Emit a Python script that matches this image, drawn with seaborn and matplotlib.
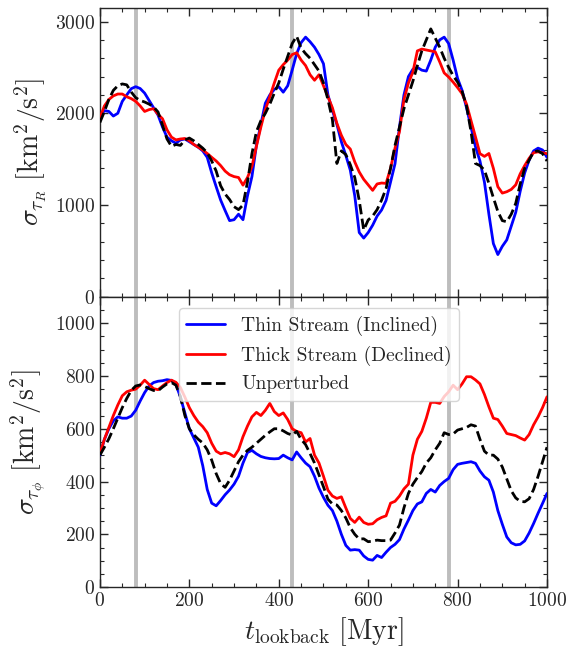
import numpy as np
import pandas as pd
import matplotlib
matplotlib.use("Agg")
import matplotlib.pyplot as plt
from matplotlib.ticker import MultipleLocator
import seaborn as sns

sns.set_style("ticks")
plt.rcParams["font.family"] = "serif"
plt.rcParams["font.serif"] = ["cmr10", "DejaVu Serif"]
plt.rcParams["mathtext.fontset"] = "cm"
plt.rcParams["axes.formatter.use_mathtext"] = True

t = list(range(0, 1001, 10))

# ---- top panel: sigma_tau_R ----
top_thin = [1960, 2030, 2020, 1970, 2000, 2130, 2200, 2268, 2290, 2270,
            2220, 2140, 2060, 1980, 1850, 1740, 1700, 1674, 1710, 1720,
            1690, 1660, 1630, 1590, 1520, 1350, 1200, 1054, 940, 830,
            840, 900, 840, 1100, 1310, 1650, 1880, 2110, 2200, 2260,
            2290, 2230, 2300, 2470, 2650, 2770, 2830, 2780, 2720, 2640,
            2540, 2200, 2030, 1880, 1690, 1540, 1380, 1100, 700, 640,
            700, 780, 880, 946, 1050, 1250, 1450, 1850, 2200, 2400,
            2480, 2500, 2470, 2460, 2580, 2720, 2800, 2830, 2760, 2580,
            2380, 2250, 2060, 1850, 1634, 1480, 1250, 900, 580, 460,
            550, 620, 770, 920, 1150, 1350, 1490, 1590, 1620, 1600, 1520]
top_thick = [1950, 2080, 2150, 2190, 2210, 2210, 2180, 2160, 2130, 2080,
             2020, 2040, 2050, 1990, 1940, 1820, 1740, 1710, 1720, 1725,
             1700, 1660, 1630, 1600, 1562, 1520, 1480, 1430, 1370, 1330,
             1310, 1300, 1217, 1300, 1420, 1640, 1850, 2040, 2180, 2330,
             2470, 2530, 2580, 2640, 2660, 2580, 2520, 2420, 2360, 2420,
             2300, 2180, 2060, 1890, 1760, 1660, 1610, 1470, 1360, 1280,
             1220, 1160, 1230, 1240, 1236, 1400, 1620, 1800, 2150, 2330,
             2450, 2680, 2700, 2690, 2680, 2670, 2560, 2440, 2395, 2340,
             2280, 2214, 2100, 1920, 1743, 1560, 1530, 1562, 1400, 1200,
             1130, 1145, 1170, 1220, 1340, 1430, 1510, 1570, 1580, 1570, 1560]
top_unpert = [1900, 2020, 2150, 2250, 2300, 2320, 2310, 2232, 2170, 2140,
              2123, 2100, 2070, 2014, 1870, 1720, 1640, 1660, 1650, 1710,
              1730, 1700, 1660, 1620, 1570, 1480, 1370, 1210, 1120, 1060,
              982, 950, 1000, 1250, 1560, 1800, 1920, 2000, 2100, 2220,
              2330, 2480, 2620, 2760, 2840, 2710, 2650, 2600, 2530, 2460,
              2330, 2150, 1930, 1453, 1590, 1550, 1440, 1300, 1050, 728,
              837, 880, 950, 1054, 1180, 1400, 1650, 1850, 2050, 2200,
              2350, 2520, 2680, 2800, 2920, 2820, 2720, 2600, 2500, 2410,
              2340, 2240, 2080, 1800, 1453, 1430, 1380, 1236, 1080, 930,
              830, 818, 900, 1018, 1230, 1400, 1490, 1580, 1590, 1560, 1480]

# ---- bottom panel: sigma_tau_phi ----
bot_thin = [500, 560, 600, 630, 645, 640, 640, 648, 670, 705,
            737, 762, 775, 780, 782, 786, 783, 768, 720, 660,
            600, 565, 530, 460, 370, 318, 308, 328, 350, 368,
            390, 420, 470, 510, 518, 505, 495, 490, 487, 486,
            487, 500, 490, 482, 512, 490, 470, 456, 420, 375,
            340, 310, 290, 250, 200, 158, 140, 142, 140, 118,
            105, 102, 120, 112, 132, 150, 162, 180, 220, 254,
            290, 315, 323, 355, 370, 360, 385, 400, 412, 445,
            465, 469, 472, 475, 469, 440, 418, 405, 360, 290,
            238, 190, 168, 160, 162, 175, 205, 241, 280, 317, 355]
bot_thick = [505, 560, 605, 650, 690, 725, 740, 746, 750, 765,
             784, 768, 752, 748, 762, 775, 784, 776, 756, 720,
             680, 650, 625, 608, 585, 545, 515, 505, 510, 505,
             494, 520, 570, 610, 645, 662, 650, 670, 696, 665,
             650, 660, 635, 600, 590, 585, 550, 563, 500, 470,
             420, 367, 345, 336, 342, 300, 260, 245, 265, 245,
             238, 240, 255, 264, 270, 318, 325, 345, 372, 390,
             500, 560, 590, 640, 700, 700, 696, 722, 740, 765,
             748, 770, 797, 797, 785, 770, 730, 683, 640, 635,
             610, 582, 578, 574, 565, 557, 578, 615, 645, 680, 721]
bot_unpert = [500, 530, 562, 600, 640, 680, 715, 745, 762, 766,
              760, 752, 745, 744, 758, 770, 775, 765, 722, 650,
              600, 577, 560, 546, 520, 481, 430, 392, 378, 405,
              440, 475, 500, 518, 530, 545, 560, 575, 588, 600,
              600, 592, 582, 576, 590, 560, 540, 506, 470, 425,
              380, 333, 315, 311, 290, 262, 225, 200, 182, 183,
              172, 174, 178, 176, 176, 178, 205, 235, 300, 355,
              390, 415, 438, 470, 490, 520, 545, 585, 578, 580,
              595, 600, 605, 615, 610, 560, 515, 500, 500, 485,
              455, 410, 365, 338, 325, 323, 335, 370, 420, 475, 530]

labels = ["Thin Stream (Inclined)", "Thick Stream (Declined)", "Unperturbed"]
colors = ["blue", "red", "black"]
styles = ["-", "-", "--"]
event_times = [80, 430, 780]

fig = plt.figure(figsize=(5.71, 6.48), dpi=100)
ax1 = fig.add_axes([0.175, 0.542, 0.783, 0.446])
ax2 = fig.add_axes([0.175, 0.094, 0.783, 0.448], sharex=ax1)

for ax, series in ((ax1, (top_thin, top_thick, top_unpert)),
                   (ax2, (bot_thin, bot_thick, bot_unpert))):
    for tv in event_times:
        ax.axvline(tv, color="#bdbdbd", lw=2.8, zorder=1)
    for s, lab, c, ls in zip(series, labels, colors, styles):
        sns.lineplot(x=t, y=s, ax=ax, color=c, linestyle=ls, lw=2.0,
                     label=lab, zorder=3)
    ax.tick_params(which="both", direction="in", top=True, right=True,
                   labelsize=14)
    ax.tick_params(which="major", length=6, width=1)
    ax.tick_params(which="minor", length=3, width=0.8)
    ax.xaxis.set_major_locator(MultipleLocator(200))
    ax.xaxis.set_minor_locator(MultipleLocator(50))

ax1.set_xlim(0, 1000)
ax1.set_ylim(0, 3150)
ax1.yaxis.set_major_locator(MultipleLocator(1000))
ax1.yaxis.set_minor_locator(MultipleLocator(200))
ax1.tick_params(labelbottom=False)
ax1.get_legend().remove()
ax1.set_ylabel(r"$\sigma_{\tau_R}\ [\mathrm{km}^2/\mathrm{s}^2]$", fontsize=20)

ax2.set_ylim(0, 1100)
ax2.yaxis.set_major_locator(MultipleLocator(200))
ax2.yaxis.set_minor_locator(MultipleLocator(50))
ax2.set_ylabel(r"$\sigma_{\tau_\phi}\ [\mathrm{km}^2/\mathrm{s}^2]$", fontsize=20)
ax2.set_xlabel(r"$t_{\rm lookback}\ [\mathrm{Myr}]$", fontsize=20)
ax2.legend(loc="upper center", bbox_to_anchor=(0.49, 0.995), fontsize=14,
           frameon=True, fancybox=True, framealpha=0.8, handlelength=2.0,
           labelspacing=0.5)

for ax in (ax1, ax2):
    for sp in ax.spines.values():
        sp.set_linewidth(1.0)

fig.savefig("out.png", dpi=100)
